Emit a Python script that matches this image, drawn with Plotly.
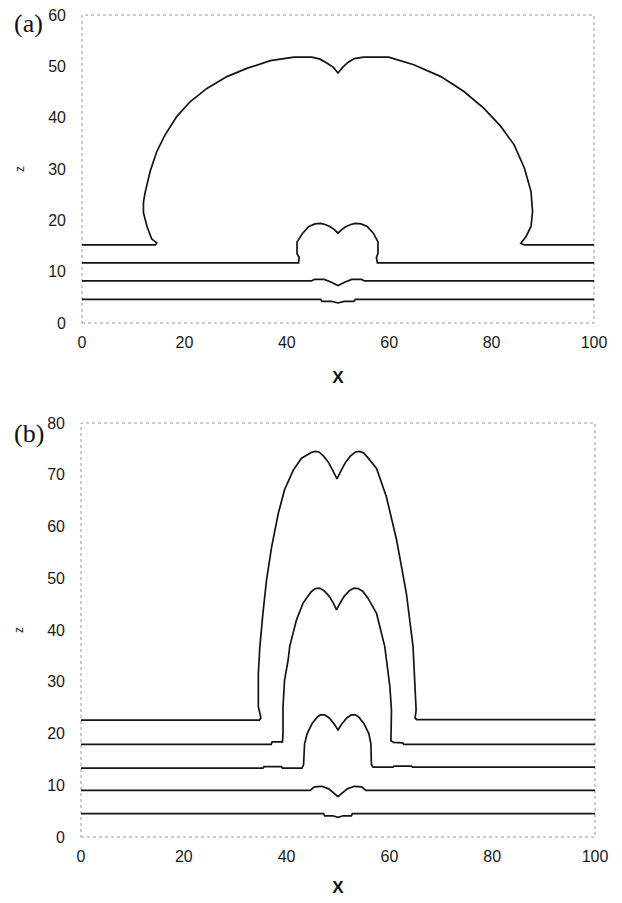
import plotly.graph_objects as go

# ---------- Panel (a) data (x, z) ----------
a1_x = [0, 46.6, 46.9, 48.8, 50.0, 51.2, 53.1, 53.4, 100]
a1_z = [4.6, 4.6, 4.2, 4.2, 3.9, 4.2, 4.2, 4.6, 4.6]

a2_x = [0, 44.8, 45.4, 47.3, 48.6, 50.0, 51.4, 52.7, 54.6, 55.2, 100]
a2_z = [8.2, 8.2, 8.5, 8.5, 8.0, 7.3, 8.0, 8.5, 8.5, 8.2, 8.2]

a3_x = [0, 42.3, 42.4, 42.0, 42.0, 43.1, 44.3, 45.5, 46.6, 47.5, 48.4, 49.3, 50.0,
        50.7, 51.6, 52.5, 53.4, 54.5, 55.7, 56.9, 57.8, 57.8, 57.5, 57.7, 100]
a3_z = [11.7, 11.7, 12.8, 13.5, 15.8, 17.5, 18.8, 19.3, 19.4, 19.2, 18.8, 18.2, 17.5,
        18.2, 18.8, 19.2, 19.4, 19.3, 18.8, 17.5, 15.8, 13.5, 12.8, 11.7, 11.7]

a4_x = [0, 14.3, 14.6, 13.6, 12.7, 12.0, 12.0, 12.3, 13.3, 14.6, 16.2, 18.5,
        21.1, 24.4, 28.3, 32.2, 36.8, 41.4, 44.9, 46.5, 47.9, 49.1, 50.0, 50.9,
        52.0, 53.2, 55.0, 59.9, 64.8, 70.1, 74.6, 78.5, 81.8, 84.4, 86.4, 87.7,
        88.0, 87.7, 86.7, 85.7, 86.4, 100]
a4_z = [15.2, 15.2, 15.6, 16.4, 18.8, 21.5, 23.5, 25.3, 29.5, 33.4, 36.6, 40.2,
        43.1, 45.7, 48.0, 49.6, 51.1, 51.8, 51.8, 51.4, 50.6, 49.8, 48.7, 49.8,
        50.8, 51.5, 51.8, 51.8, 50.3, 48.0, 45.1, 41.8, 38.3, 34.7, 30.2, 25.6,
        21.7, 18.8, 16.8, 15.5, 15.2, 15.2]

# ---------- Panel (b) data (x, z) ----------
b1_x = [0, 47.2, 47.4, 49.0, 50.0, 51.0, 52.6, 52.8, 100]
b1_z = [4.5, 4.5, 4.1, 4.1, 3.8, 4.1, 4.1, 4.5, 4.5]

b2_x = [0, 44.6, 45.4, 46.8, 48.2, 50.0, 51.8, 53.2, 54.6, 55.4, 100]
b2_z = [9.0, 9.0, 9.7, 9.8, 9.3, 7.8, 9.3, 9.8, 9.7, 9.0, 9.0]

b3_x = [0, 35.4, 35.6, 39.0, 39.2, 43.0, 43.3, 43.5, 44.0, 45.0, 46.0, 46.6, 47.4,
        48.3, 49.3, 50.0, 50.7, 51.7, 52.6, 53.4, 54.0, 55.0, 56.0, 56.4, 56.5,
        56.8, 60.7, 60.9, 64.3, 64.5, 100]
b3_z = [13.3, 13.3, 13.6, 13.6, 13.3, 13.3, 14.0, 18.0, 20.0, 22.0, 23.2, 23.6, 23.6,
        23.0, 21.8, 20.7, 21.8, 23.0, 23.6, 23.6, 23.2, 22.0, 20.0, 18.0, 14.0,
        13.5, 13.5, 13.7, 13.7, 13.5, 13.5]

b4_x = [0, 37.0, 37.2, 39.2, 39.3, 39.3, 39.6, 40.3, 40.6, 41.9, 43.2, 44.8,
        45.6, 46.4, 47.3, 48.3, 49.1, 49.7, 50.4, 51.2, 52.2, 53.1, 53.9, 54.8,
        55.8, 57.5, 59.1, 60.1, 60.4, 60.3, 60.8, 62.6, 62.8, 100]
b4_z = [17.9, 17.9, 18.4, 18.4, 20.0, 25.2, 30.3, 34.2, 36.8, 41.9, 45.2, 47.4,
        48.0, 48.1, 47.6, 46.5, 45.2, 43.9, 45.2, 46.5, 47.6, 48.1, 48.0, 47.5,
        46.2, 43.2, 36.8, 29.0, 24.5, 18.6, 18.3, 18.2, 17.9, 17.9]

b5_x = [0, 34.7, 35.0, 34.5, 34.5, 34.8, 35.4, 36.1, 37.1, 38.4, 39.6, 41.3,
        42.9, 44.8, 45.5, 46.3, 47.2, 48.2, 49.0, 49.8, 50.6, 51.4, 52.4, 53.4,
        54.2, 55.0, 55.8, 57.5, 59.4, 61.4, 63.3, 64.6, 65.2, 65.0, 65.3, 100]
b5_z = [22.6, 22.6, 23.0, 25.2, 31.6, 36.8, 43.3, 49.7, 56.1, 62.6, 67.1, 70.9,
        73.2, 74.3, 74.5, 74.4, 73.6, 72.3, 70.8, 69.2, 70.8, 72.3, 73.6, 74.4,
        74.5, 74.2, 73.3, 71.2, 65.8, 57.4, 47.1, 36.8, 24.5, 23.0, 22.7, 22.7]

panel_a = [(a1_x, a1_z), (a2_x, a2_z), (a3_x, a3_z), (a4_x, a4_z)]
panel_b = [(b1_x, b1_z), (b2_x, b2_z), (b3_x, b3_z), (b4_x, b4_z), (b5_x, b5_z)]

x_ticks = [0, 20, 40, 60, 80, 100]
za_ticks = [0, 10, 20, 30, 40, 50, 60]
zb_ticks = [0, 10, 20, 30, 40, 50, 60, 70, 80]

# page body adds an 8px margin, so the figure is placed at (8, 8)
OFF = 8
W, H = 622 - OFF, 903 - OFF

def px(v):
    return (v - OFF) / W

def py(v):
    return 1 - (v - OFF) / H

fig = go.Figure()

line_style = dict(color="#141414", width=1.7)
for xs, zs in panel_a:
    fig.add_trace(go.Scatter(x=xs, y=zs, mode="lines", line=line_style,
                             xaxis="x", yaxis="y", showlegend=False, hoverinfo="skip"))
for xs, zs in panel_b:
    fig.add_trace(go.Scatter(x=xs, y=zs, mode="lines", line=line_style,
                             xaxis="x2", yaxis="y2", showlegend=False, hoverinfo="skip"))

tick_font = dict(family="Liberation Sans, Arial, sans-serif", size=16, color="#1a1a1a")
title_font = dict(family="Liberation Sans, Arial, sans-serif", size=17, color="#111", weight="bold")
z_font = dict(family="Liberation Sans, Arial, sans-serif", size=12, color="#222")

def xaxis(domain, anchor, standoff):
    return dict(domain=domain, anchor=anchor, range=[0, 100], tickvals=x_ticks,
                showgrid=False, zeroline=False, showline=False, ticks="",
                automargin=False, tickfont=tick_font, ticklabelstandoff=8,
                ticklabeloverflow="allow",
                title=dict(text="X", font=title_font, standoff=standoff))

def yaxis(domain, anchor, rng, vals):
    return dict(domain=domain, anchor=anchor, range=rng, tickvals=vals,
                showgrid=False, zeroline=False, showline=False, ticks="",
                automargin=False, tickfont=tick_font, ticklabelstandoff=15,
                ticklabeloverflow="allow",
                title=dict(text="z", font=z_font, standoff=21))

fig.update_layout(
    width=W, height=H,
    margin=dict(l=0, r=0, t=0, b=0),
    paper_bgcolor="white", plot_bgcolor="white",
    xaxis=xaxis([px(82), px(594)], "y", 21),
    yaxis=yaxis([py(323), py(15)], "x", [0, 60], za_ticks),
    xaxis2=xaxis([px(81), px(595)], "y2", 17),
    yaxis2=yaxis([py(837), py(423)], "x2", [0, 80], zb_ticks),
)

frame = dict(color="#9a9a9a", width=1, dash="dot")
for xr, yr in [("x domain", "y domain"), ("x2 domain", "y2 domain")]:
    fig.add_shape(type="rect", xref=xr, yref=yr, x0=0, x1=1, y0=0, y1=1,
                  line=frame, layer="below")

lab_font = dict(family="Liberation Serif, Times New Roman, serif", size=26, color="#111")
fig.add_annotation(text="(a)", xref="paper", yref="paper", x=px(12), y=py(23),
                   xanchor="left", yanchor="middle", showarrow=False, font=lab_font)
fig.add_annotation(text="(b)", xref="paper", yref="paper", x=px(12), y=py(433),
                   xanchor="left", yanchor="middle", showarrow=False, font=lab_font)

fig.write_html("out.html")
